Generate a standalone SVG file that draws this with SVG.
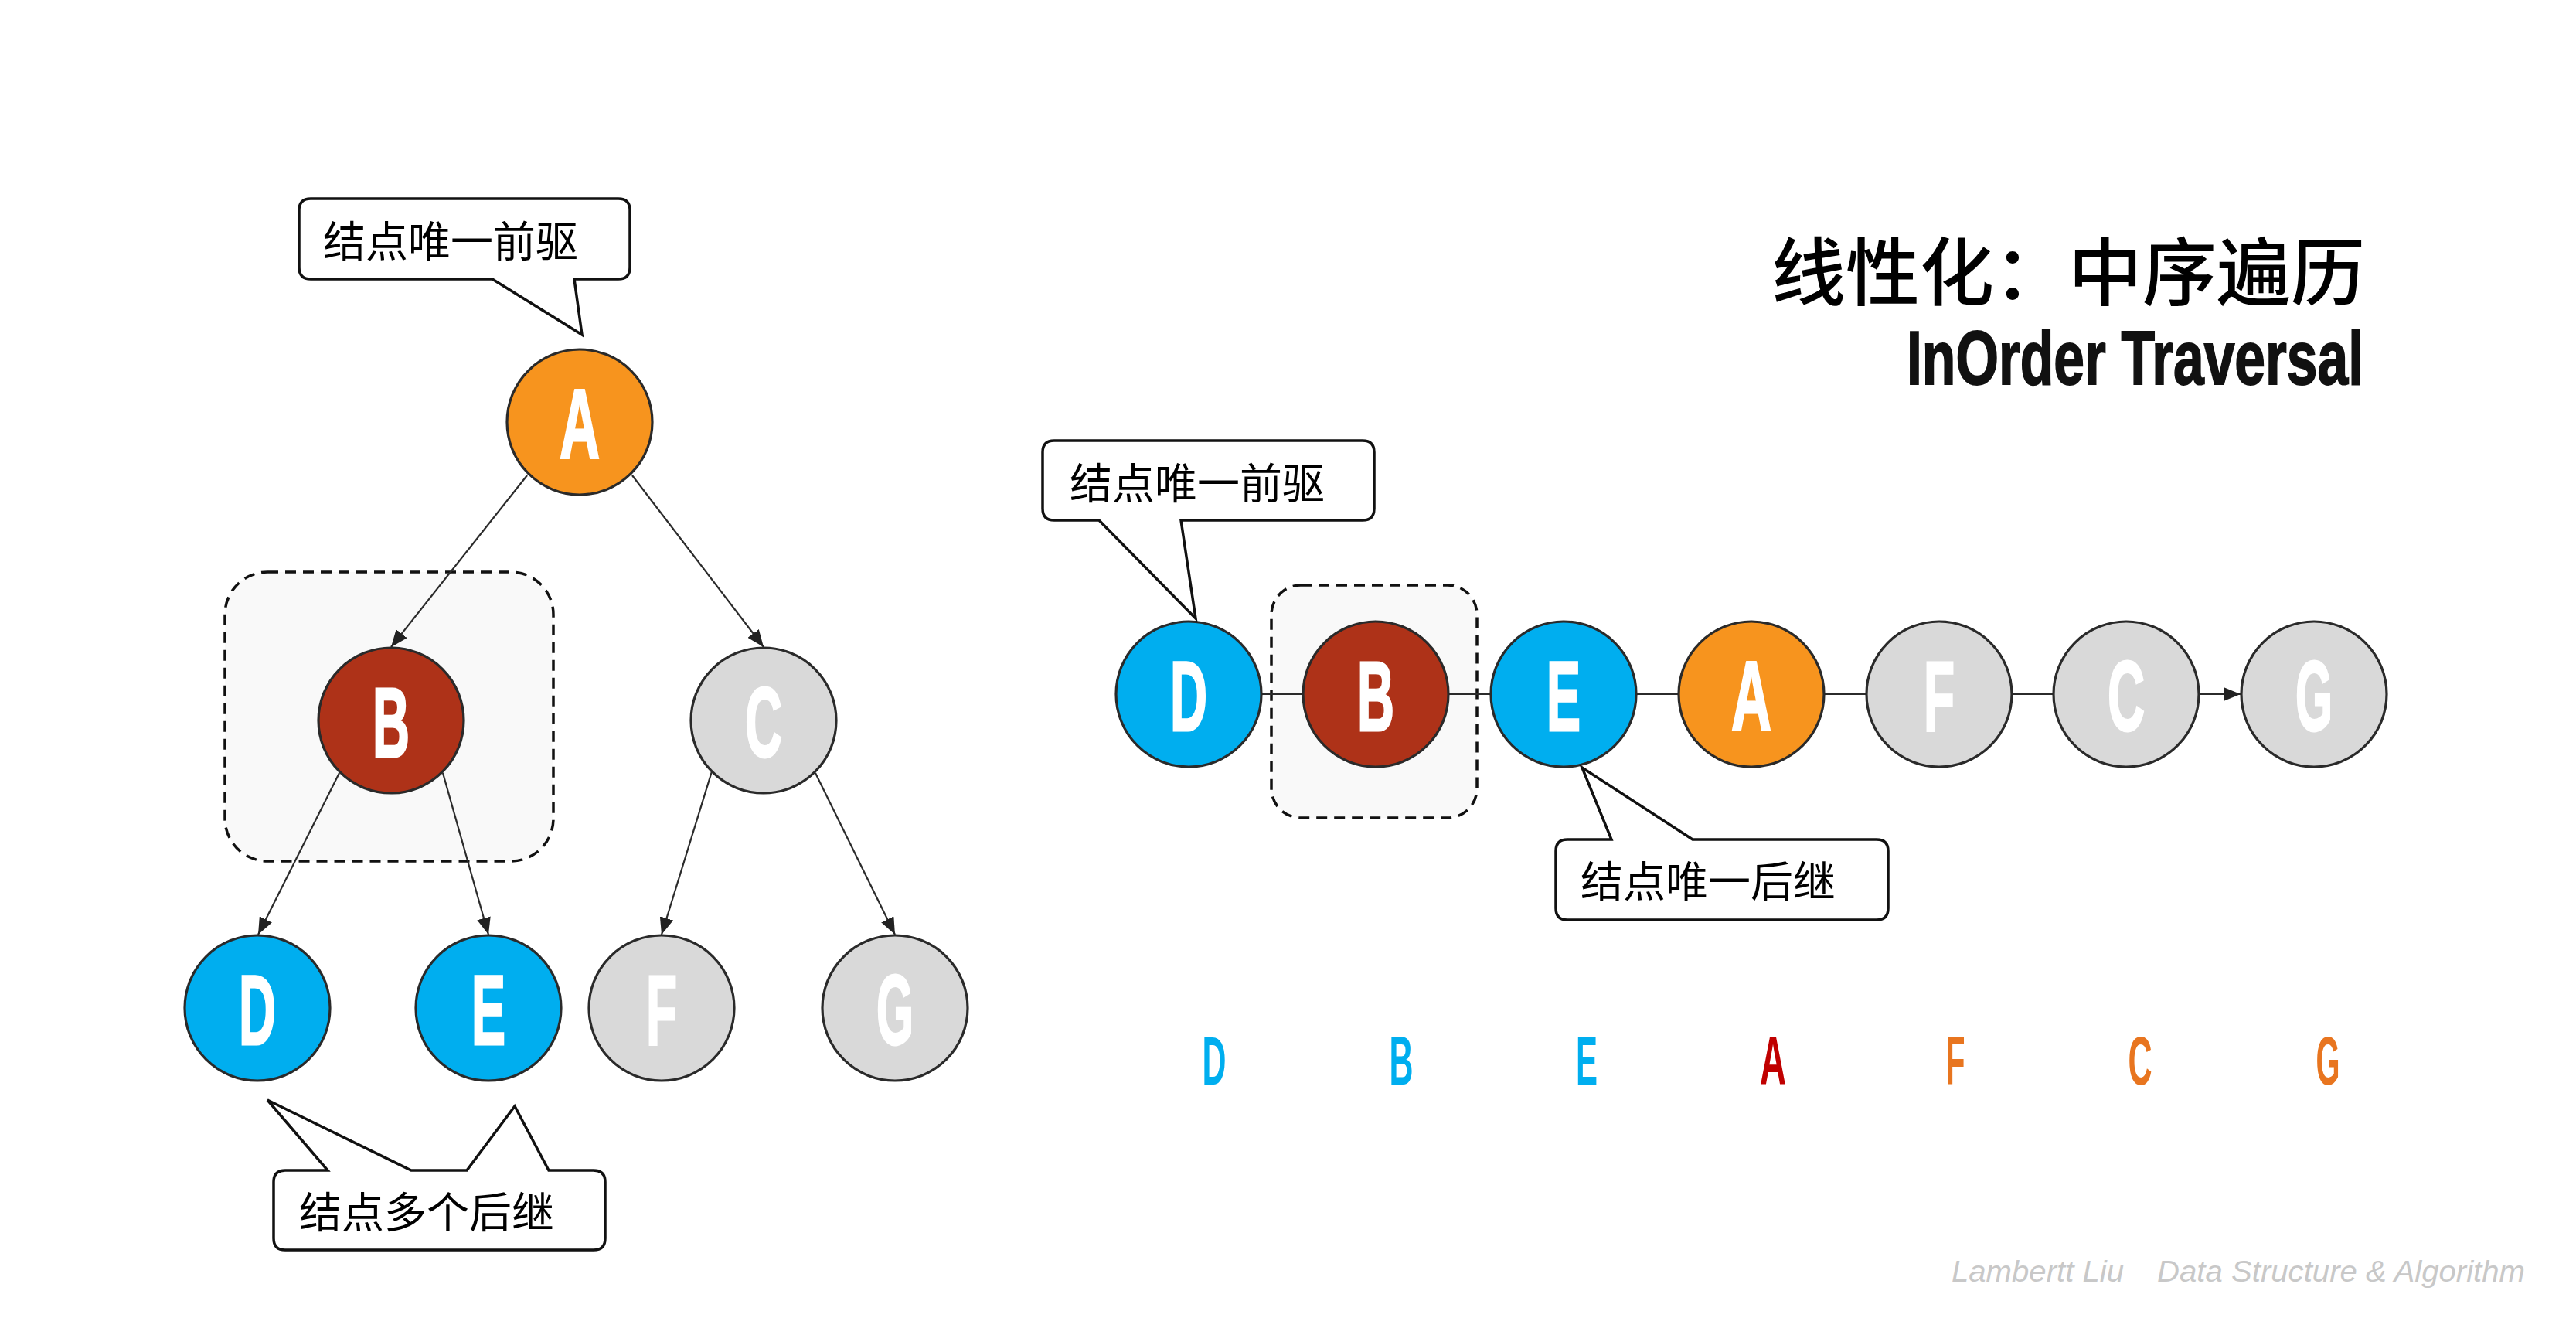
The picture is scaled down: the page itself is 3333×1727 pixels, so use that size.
<svg xmlns="http://www.w3.org/2000/svg" width="3333" height="1727" viewBox="0 0 3333 1727">
<defs>
<style>
.bg{fill:#ffffff}
.group{fill:#f9f9f9;stroke:#111;stroke-width:3.5;stroke-dasharray:14 9}
.edge{stroke:#2b2b2b;stroke-width:2.2;fill:none}
.node{stroke:#2a2a2a;stroke-width:3.2}
.orange{fill:#F7941E}
.red{fill:#AE3218}
.blue{fill:#00AEEF}
.gray{fill:#D9D9D9}
.nl{font-family:"Liberation Sans",Arial,sans-serif;font-weight:bold;font-size:128px;fill:#fff;stroke:#fff;stroke-width:3;text-anchor:middle}
.call{fill:#fff;stroke:#111;stroke-width:3.5;stroke-linejoin:miter}
.ct{font-family:"Noto Sans CJK SC",sans-serif;font-size:55px;fill:#000}
.seq{font-family:"Liberation Sans",Arial,sans-serif;font-weight:bold;font-size:89px;text-anchor:middle}
.foot{font-family:"Liberation Sans",Arial,sans-serif;font-style:italic;font-size:39px;fill:#c8c8c8}
</style>
<marker id="arr" markerUnits="userSpaceOnUse" markerWidth="22" markerHeight="18" refX="22" refY="9" orient="auto">
<path d="M0,0 L22,9 L0,18 z" fill="#222"/>
</marker>
</defs>
<rect class="bg" x="0" y="0" width="3333" height="1727"/>

<!-- group boxes -->
<rect id="tree-group" class="group" x="291" y="740" width="425" height="374" rx="55" ry="55"/>
<rect id="chain-group" class="group" x="1645" y="757" width="266" height="301" rx="38" ry="38"/>

<!-- connectors -->
<g id="connectors">
<line class="edge" x1="682" y1="615" x2="506" y2="837" marker-end="url(#arr)"/>
<line class="edge" x1="818" y1="615" x2="988" y2="837" marker-end="url(#arr)"/>
<line class="edge" x1="439" y1="1000" x2="334" y2="1209" marker-end="url(#arr)"/>
<line class="edge" x1="573" y1="1000" x2="632" y2="1209" marker-end="url(#arr)"/>
<line class="edge" x1="921" y1="998" x2="856" y2="1209" marker-end="url(#arr)"/>
<line class="edge" x1="1055" y1="1000" x2="1158" y2="1209" marker-end="url(#arr)"/>
<line class="edge" x1="1632" y1="898" x2="1686" y2="898"/>
<line class="edge" x1="1874" y1="898" x2="1929" y2="898"/>
<line class="edge" x1="2117" y1="898" x2="2172" y2="898"/>
<line class="edge" x1="2360" y1="898" x2="2415" y2="898"/>
<line class="edge" x1="2603" y1="898" x2="2657" y2="898"/>
<line class="edge" x1="2845" y1="898" x2="2899" y2="898" marker-end="url(#arr)"/>
</g>

<!-- tree nodes -->
<g id="tree-A"><circle class="node orange" cx="750" cy="546" r="94"/><text class="nl" x="750" y="593" textLength="52" lengthAdjust="spacingAndGlyphs">A</text></g>
<g id="tree-B"><circle class="node red" cx="506" cy="932" r="94"/><text class="nl" x="506" y="979" textLength="48" lengthAdjust="spacingAndGlyphs">B</text></g>
<g id="tree-C"><circle class="node gray" cx="988" cy="932" r="94"/><text class="nl" x="988" y="979" textLength="48" lengthAdjust="spacingAndGlyphs">C</text></g>
<g id="tree-D"><circle class="node blue" cx="333" cy="1304" r="94"/><text class="nl" x="333" y="1351" textLength="48" lengthAdjust="spacingAndGlyphs">D</text></g>
<g id="tree-E"><circle class="node blue" cx="632" cy="1304" r="94"/><text class="nl" x="632" y="1351" textLength="44" lengthAdjust="spacingAndGlyphs">E</text></g>
<g id="tree-F"><circle class="node gray" cx="856" cy="1304" r="94"/><text class="nl" x="856" y="1351" textLength="40" lengthAdjust="spacingAndGlyphs">F</text></g>
<g id="tree-G"><circle class="node gray" cx="1158" cy="1304" r="94"/><text class="nl" x="1158" y="1351" textLength="48" lengthAdjust="spacingAndGlyphs">G</text></g>

<!-- chain nodes -->
<g id="chain-D"><circle class="node blue" cx="1538" cy="898" r="94"/><text class="nl" x="1538" y="945" textLength="48" lengthAdjust="spacingAndGlyphs">D</text></g>
<g id="chain-B"><circle class="node red" cx="1780" cy="898" r="94"/><text class="nl" x="1780" y="945" textLength="48" lengthAdjust="spacingAndGlyphs">B</text></g>
<g id="chain-E"><circle class="node blue" cx="2023" cy="898" r="94"/><text class="nl" x="2023" y="945" textLength="44" lengthAdjust="spacingAndGlyphs">E</text></g>
<g id="chain-A"><circle class="node orange" cx="2266" cy="898" r="94"/><text class="nl" x="2266" y="945" textLength="52" lengthAdjust="spacingAndGlyphs">A</text></g>
<g id="chain-F"><circle class="node gray" cx="2509" cy="898" r="94"/><text class="nl" x="2509" y="945" textLength="40" lengthAdjust="spacingAndGlyphs">F</text></g>
<g id="chain-C"><circle class="node gray" cx="2751" cy="898" r="94"/><text class="nl" x="2751" y="945" textLength="48" lengthAdjust="spacingAndGlyphs">C</text></g>
<g id="chain-G"><circle class="node gray" cx="2994" cy="898" r="94"/><text class="nl" x="2994" y="945" textLength="48" lengthAdjust="spacingAndGlyphs">G</text></g>

<!-- callouts -->
<g id="callout-tree-pred">
<path class="call" d="M402,257 H800 Q815,257 815,272 V346 Q815,361 800,361 H743 L753,433 L637,361 H402 Q387,361 387,346 V272 Q387,257 402,257 Z"/>
<text class="ct" x="418" y="332">结点唯一前驱</text>
</g>
<g id="callout-chain-pred">
<path class="call" d="M1364,570 H1763 Q1778,570 1778,585 V658 Q1778,673 1763,673 H1528 L1547,800 L1422,673 H1364 Q1349,673 1349,658 V585 Q1349,570 1364,570 Z"/>
<text class="ct" x="1384" y="645">结点唯一前驱</text>
</g>
<g id="callout-chain-succ">
<path class="call" d="M2028,1086 H2085 L2047,993 L2190,1086 H2428 Q2443,1086 2443,1101 V1175 Q2443,1190 2428,1190 H2028 Q2013,1190 2013,1175 V1101 Q2013,1086 2028,1086 Z"/>
<text class="ct" x="2045" y="1160">结点唯一后继</text>
</g>
<g id="callout-tree-succ">
<path class="call" d="M369,1514 H424 L346,1423 L532,1514 H604 L666,1431 L710,1514 H768 Q783,1514 783,1529 V1602 Q783,1617 768,1617 H369 Q354,1617 354,1602 V1529 Q354,1514 369,1514 Z"/>
<text class="ct" x="387" y="1588">结点多个后继</text>
</g>

<!-- title -->
<g id="title">
<text x="3060" y="387" font-family="Noto Sans CJK SC, sans-serif" font-size="96" font-weight="500" text-anchor="end" fill="#000">线性化：中序遍历</text>
<text x="2467" y="497" font-family="Liberation Sans, Arial, sans-serif" font-size="99" font-weight="bold" fill="#111" stroke="#111" stroke-width="2" textLength="591" lengthAdjust="spacingAndGlyphs">InOrder Traversal</text>
</g>

<!-- sequence -->
<g id="sequence">
<text class="seq" x="1571" y="1403" fill="#00AEEF" textLength="31" lengthAdjust="spacingAndGlyphs">D</text>
<text class="seq" x="1813" y="1403" fill="#00AEEF" textLength="31" lengthAdjust="spacingAndGlyphs">B</text>
<text class="seq" x="2053" y="1403" fill="#00AEEF" textLength="28" lengthAdjust="spacingAndGlyphs">E</text>
<text class="seq" x="2294" y="1403" fill="#C00000" textLength="34" lengthAdjust="spacingAndGlyphs">A</text>
<text class="seq" x="2530" y="1403" fill="#E8751F" textLength="25" lengthAdjust="spacingAndGlyphs">F</text>
<text class="seq" x="2769" y="1403" fill="#E8751F" textLength="31" lengthAdjust="spacingAndGlyphs">C</text>
<text class="seq" x="3012" y="1403" fill="#E8751F" textLength="31" lengthAdjust="spacingAndGlyphs">G</text>
</g>

<!-- footer -->
<g id="footer">
<text class="foot" x="2525" y="1658" textLength="223" lengthAdjust="spacingAndGlyphs">Lambertt Liu</text>
<text class="foot" x="2791" y="1658" textLength="476" lengthAdjust="spacingAndGlyphs">Data Structure &amp; Algorithm</text>
</g>
</svg>
